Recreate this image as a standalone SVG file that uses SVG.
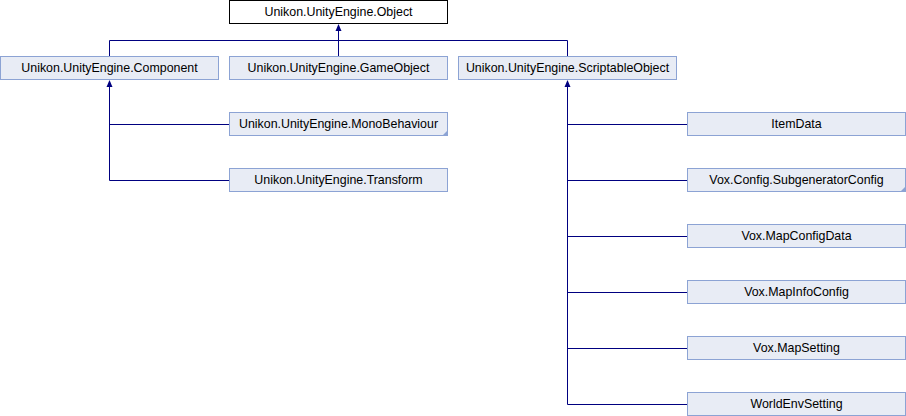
<svg xmlns="http://www.w3.org/2000/svg" width="906" height="416" viewBox="0 0 906 416">
<style>
.n rect{fill:#E8ECF5;stroke:#8CA3D4;stroke-width:1}
.r rect{fill:#FFFFFF;stroke:#000000;stroke-width:1}
text{font-family:"Liberation Sans",Arial,sans-serif;font-size:12.4px;fill:#000000;text-anchor:middle}
.c{fill:none;stroke:#000080;stroke-width:1}
.f{fill:#8CA3D4}
.a{fill:#000080}
</style>
<rect width="906" height="416" fill="#FFFFFF"/>
<g id="connectors">
<path class="c" d="M338.5,26 V56.5 M109.5,56.5 V40.5 H567.5 V56.5"/>
<path class="c" d="M109.5,82 V180.5 H229.5 M109.5,124.5 H229.5"/>
<path class="c" d="M567.5,82 V404.5 H687.5 M567.5,124.5 H687.5 M567.5,180.5 H687.5 M567.5,236.5 H687.5 M567.5,292.5 H687.5 M567.5,348.5 H687.5"/>
<path class="a" d="M338.5,24 L341.5,31 L335.5,31 Z"/>
<path class="a" d="M109.5,80 L112.5,87 L106.5,87 Z"/>
<path class="a" d="M567.5,80 L570.5,87 L564.5,87 Z"/>
</g>
<g id="object" class="r"><rect x="229.5" y="0.5" width="218" height="23"/><text x="338.5" y="16">Unikon.UnityEngine.Object</text></g>
<g id="component" class="n"><rect x="0.5" y="56.5" width="218" height="23"/><text x="109.5" y="72">Unikon.UnityEngine.Component</text></g>
<g id="gameobject" class="n"><rect x="229.5" y="56.5" width="218" height="23"/><text x="338.5" y="72">Unikon.UnityEngine.GameObject</text></g>
<g id="scriptableobject" class="n"><rect x="458.5" y="56.5" width="218" height="23"/><text x="567.5" y="72">Unikon.UnityEngine.ScriptableObject</text></g>
<g id="monobehaviour" class="n"><rect x="229.5" y="112.5" width="218" height="23"/><path class="f" d="M448,130 V136 H442 Z"/><text x="338.5" y="128">Unikon.UnityEngine.MonoBehaviour</text></g>
<g id="transform" class="n"><rect x="229.5" y="168.5" width="218" height="23"/><text x="338.5" y="184">Unikon.UnityEngine.Transform</text></g>
<g id="itemdata" class="n"><rect x="687.5" y="112.5" width="218" height="23"/><text x="796.5" y="128">ItemData</text></g>
<g id="subgeneratorconfig" class="n"><rect x="687.5" y="168.5" width="218" height="23"/><path class="f" d="M906,186 V192 H900 Z"/><text x="796.5" y="184">Vox.Config.SubgeneratorConfig</text></g>
<g id="mapconfigdata" class="n"><rect x="687.5" y="224.5" width="218" height="23"/><text x="796.5" y="240">Vox.MapConfigData</text></g>
<g id="mapinfoconfig" class="n"><rect x="687.5" y="280.5" width="218" height="23"/><text x="796.5" y="296">Vox.MapInfoConfig</text></g>
<g id="mapsetting" class="n"><rect x="687.5" y="336.5" width="218" height="23"/><text x="796.5" y="352">Vox.MapSetting</text></g>
<g id="worldenvsetting" class="n"><rect x="687.5" y="392.5" width="218" height="23"/><text x="796.5" y="408">WorldEnvSetting</text></g>
</svg>
